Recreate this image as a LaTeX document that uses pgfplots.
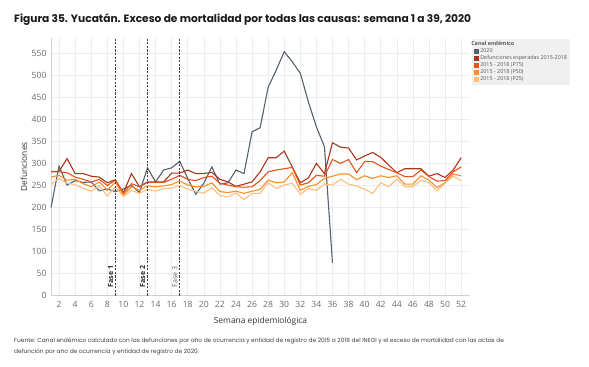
\documentclass[border=0pt]{standalone}
\usepackage{pgfplots}
\pgfplotsset{compat=1.18}
\usepackage{pgfplotstable}
\usepackage{fontspec}
\setmainfont{Open Sans}
\newfontfamily\poppins{Poppins}
\definecolor{cgrey}{HTML}{55616C}
\definecolor{cesp}{HTML}{A8361B}
\definecolor{cp75}{HTML}{E5531C}
\definecolor{cp50}{HTML}{F98E2C}
\definecolor{cp25}{HTML}{FDBF80}
\definecolor{ticktext}{HTML}{6B6B6B}
\definecolor{gridc}{HTML}{EDEDED}

\pgfplotstableread{
w v
1 200
2 294
3 251
4 261
5 257
6 258
7 238
8 242
9 236
10 242
11 250
12 234
13 290
14 258
15 285
16 290
17 305
18 266
19 230
20 255
21 292
22 253
23 256
24 285
25 277
26 372
27 381
28 473
29 512
30 554
31 531
32 505
33 440
34 383
35 338
36 74
}\tdosmil

\pgfplotstableread{
w esp p75 p50 p25
1 282 281 269 252
2 282 281 273 266
3 311 279 262 255
4 277 269 264 252
5 277 264 254 243
6 271 258 247 237
7 269 264 258 249
8 256 250 239 226
9 263 262 257 247
10 233 232 228 225
11 277 254 247 239
12 247 247 239 232
13 258 257 249 241
14 258 257 247 237
15 258 257 249 243
16 278 264 252 244
17 278 273 260 250
18 285 264 251 241
19 277 261 247 237
20 277 268 248 232
21 280 271 256 245
22 264 255 236 227
23 258 251 234 224
24 248 247 237 233
25 253 246 232 218
26 258 247 237 232
27 281 261 241 232
28 313 281 262 256
29 313 285 256 243
30 328 288 258 251
31 292 291 279 255
32 256 251 239 230
33 267 256 248 243
34 300 273 252 239
35 277 271 266 253
36 347 309 271 251
37 337 300 276 264
38 335 309 276 253
39 308 279 263 249
40 317 304 272 241
41 325 304 266 232
42 314 294 272 256
43 296 286 268 247
44 279 279 272 264
45 288 270 253 247
46 288 270 253 247
47 288 285 272 262
48 271 270 262 256
49 277 260 245 238
50 268 261 256 255
51 285 281 276 271
52 313 292 272 261
}\tcanal

\begin{document}
\begin{tikzpicture}
\path[use as bounding box, fill=white] (0,0) rectangle (589bp,-367bp);
\node[anchor=west, inner sep=0pt, font={\poppins\bfseries\fontsize{10.65bp}{13bp}\selectfont}, text=black!90] at (14bp,-20bp) {Figura 35. Yucatán. Exceso de mortalidad por todas las causas: semana 1 a 39, 2020};
\begin{axis}[
  at={(51bp,-295.5bp)}, anchor=south west,
  scale only axis, width=419bp, height=257.5bp,
  xmin=1, xmax=53.1, ymin=0, ymax=585,
  xtick={2,4,...,52}, ytick={0,50,...,550},
  grid=major, major grid style={gridc, line width=0.6pt},
  axis x line*=bottom, axis y line*=left,
  axis line style={draw=black!18, line width=0.6pt},
  major tick length=0pt,
  tick label style={font=\fontsize{8.6bp}{10bp}\selectfont, text=ticktext},
  /pgf/number format/assume math mode=true,
  xticklabel style={yshift=-2bp},
  yticklabel style={xshift=-1bp},
  xlabel={Semana epidemiológica}, ylabel={Defunciones},
  label style={font=\fontsize{8.4bp}{10bp}\selectfont, text=black!80},
  xlabel style={at={(0.5,-0.099)}, anchor=center},
  ylabel style={at={(-0.0645,0.5)}, anchor=center, rotate=0},
  legend style={at={(1.005,0.997)}, anchor=north west, fill=black!6, draw=none,
    font=\fontsize{5.4bp}{6.2bp}\selectfont, text=black!65, inner sep=1.5bp,
    row sep=-0.9bp, nodes={inner sep=1.2bp}},
  legend cell align=left,
  legend image code/.code={\fill[#1] (0bp,-2bp) rectangle (4.2bp,2.2bp);},
  clip=false,
]
\addlegendimage{empty legend}
\addlegendentry{\hspace{-9bp}\textbf{Canal endémico}}
\addplot[cgrey, line width=1.1pt] table[x=w, y=v] {\tdosmil};
\addlegendentry{2020}
\addplot[cesp, line width=1.1pt] table[x=w, y=esp] {\tcanal};
\addlegendentry{Defunciones esperadas 2015-2018}
\addplot[cp75, line width=1.1pt] table[x=w, y=p75] {\tcanal};
\addlegendentry{2015 - 2018 (P75)}
\addplot[cp50, line width=1.1pt] table[x=w, y=p50] {\tcanal};
\addlegendentry{2015 - 2018 (P50)}
\addplot[cp25, line width=1.1pt] table[x=w, y=p25] {\tcanal};
\addlegendentry{2015 - 2018 (P25)}
\draw[black!75, line width=0.8pt, dash pattern=on 2.2pt off 1.4pt] (axis cs:9,0) -- (axis cs:9,585);
\draw[black!75, line width=0.8pt, dash pattern=on 2.2pt off 1.4pt] (axis cs:13,0) -- (axis cs:13,585);
\draw[black!75, line width=0.8pt, dash pattern=on 2.2pt off 1.4pt] (axis cs:17,0) -- (axis cs:17,585);
\node[rotate=90, anchor=south west, inner sep=0pt, font=\fontsize{7bp}{8bp}\selectfont\bfseries, text=black!85] at (axis cs:8.75,18) {Fase 1};
\node[rotate=90, anchor=south west, inner sep=0pt, font=\fontsize{7bp}{8bp}\selectfont\bfseries, text=black!85] at (axis cs:12.75,18) {Fase 2};
\node[rotate=90, anchor=south west, inner sep=0pt, font=\fontsize{7bp}{8bp}\selectfont, text=black!62] at (axis cs:16.75,18) {Fase 3};
\end{axis}
\node[anchor=west, inner sep=0pt, font={\poppins\fontsize{5.86bp}{7bp}\selectfont}, text=black!75] at (14bp,-341bp) {Fuente: Canal endémico calculado con las defunciones por año de ocurrencia y entidad de registro de 2015 a 2018 del INEGI y el exceso de mortalidad con las actas de};
\node[anchor=west, inner sep=0pt, font={\poppins\fontsize{5.86bp}{7bp}\selectfont}, text=black!75] at (14bp,-352bp) {defunción por año de ocurrencia y entidad de registro de 2020.};
\end{tikzpicture}
\end{document}
